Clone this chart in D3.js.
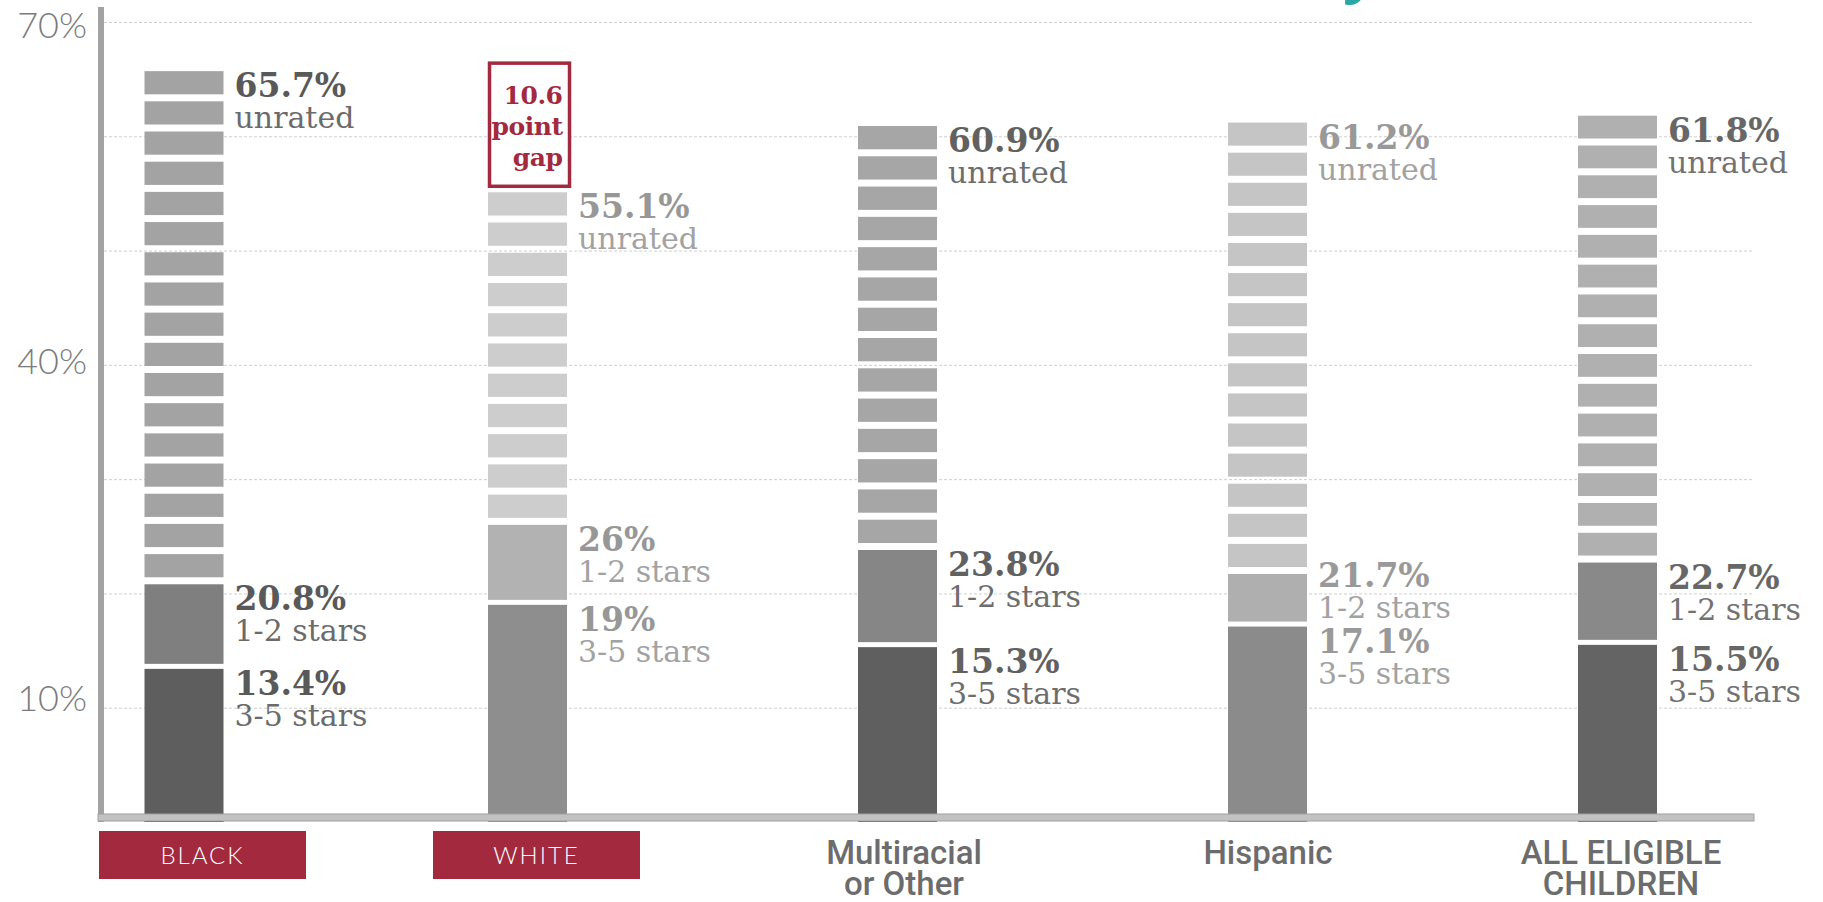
<!DOCTYPE html>
<html><head><meta charset="utf-8">
<script src="https://cdn.jsdelivr.net/npm/d3@7"></script>
<style>html,body{margin:0;padding:0;background:#fff;overflow:hidden}</style>
</head><body><svg id="chart" width="1823" height="902"></svg>
<script>
// ---- data ----
const categories = ["BLACK", "WHITE", "Multiracial or Other", "Hispanic", "ALL ELIGIBLE CHILDREN"];
const categoryLines = [["BLACK"], ["WHITE"], ["Multiracial", "or Other"], ["Hispanic"], ["ALL ELIGIBLE", "CHILDREN"]];
const highlighted = ["BLACK", "WHITE"];
const stars35 = [13.4, 19, 15.3, 17.1, 15.5];
const stars12 = [20.8, 26, 23.8, 21.7, 22.7];
const unrated = [65.7, 55.1, 60.9, 61.2, 61.8];
const seriesNames = ["3-5 stars", "1-2 stars", "unrated"];
const gridValues = [10, 20, 30, 40, 50, 60, 70];
const tickValues = [10, 40, 70];
const gapPair = ["BLACK", "WHITE"];
const gapLabel = ["10.6", "point", "gap"];

// ---- styles ----
const shade = {
  "BLACK": {s35: "#5e5e5e", s12: "#7f7f7f", un: "#a3a3a3", text: "#595959", sub: "#6b6b6b"},
  "WHITE": {s35: "#8e8e8e", s12: "#b2b2b2", un: "#cdcdcd", text: "#979797", sub: "#a2a2a2"},
  "Multiracial or Other": {s35: "#5f5f5f", s12: "#868686", un: "#a6a6a6", text: "#616161", sub: "#6d6d6d"},
  "Hispanic": {s35: "#8b8b8b", s12: "#afafaf", un: "#c5c5c5", text: "#999999", sub: "#a2a2a2"},
  "ALL ELIGIBLE CHILDREN": {s35: "#646464", s12: "#898989", un: "#b0b0b0", text: "#676767", sub: "#727272"}
};
const crimson = "#a3293f";
const serif = "'DejaVu Serif', serif";

const svg = d3.select("#chart");
const y = d3.scaleLinear().domain([0, 70]).range([822, 22]);
const x = d3.scaleOrdinal().domain(categories).range([184, 527.5, 897.5, 1267.5, 1617.5]);
const xLabel = d3.scaleOrdinal().domain(categories).range([202.5, 536.5, 904, 1268, 1621]);
const barW = 79;
const axisLeftX = 101, axisRightX = 1754;

// title fragment (cut off at the top)
svg.append("text").attr("x", 1343).attr("y", -10)
  .attr("font-family", "'Open Sans', sans-serif").attr("font-weight", 700)
  .attr("font-size", 62).attr("fill", "#2aa6a6").text("y");

// gridlines
svg.append("g").selectAll("line").data(gridValues).join("line")
  .attr("x1", axisLeftX + 3).attr("x2", axisRightX)
  .attr("y1", d => y(d) + 0.5).attr("y2", d => y(d) + 0.5)
  .attr("stroke", "#cfcfcf").attr("stroke-width", 1).attr("stroke-dasharray", "3,2");

// y axis labels
const yAxis = svg.append("g").attr("transform", `translate(${axisLeftX},0)`)
  .call(d3.axisLeft(y).tickValues(tickValues).tickFormat(d => d + "%").tickSize(0).tickPadding(14));
yAxis.select(".domain").remove();
yAxis.selectAll("text").attr("font-family", "Lato, sans-serif").attr("font-weight", 300)
  .attr("font-size", 36).attr("fill", "#7b7b7b")
  .attr("dy", d => (3 + (d - 10) * 0.2) + "px");

// bars
const rows = categories.map((c, i) => ({c, i, s35: stars35[i], s12: stars12[i], un: unrated[i]}));
const bars = svg.append("g");
rows.forEach(r => {
  const x0 = x(r.c) - barW / 2;
  const col = shade[r.c];
  bars.append("rect").attr("x", x0).attr("width", barW)
    .attr("y", y(r.s35)).attr("height", y(0) - y(r.s35)).attr("fill", col.s35);
  bars.append("rect").attr("x", x0).attr("width", barW)
    .attr("y", y(r.s12)).attr("height", (y(r.s35) - 5) - y(r.s12)).attr("fill", col.s12);
  const top = y(r.un), bot = y(r.s12);
  const n = Math.max(1, Math.round((bot - top) / 30));
  const pitch = (bot - top) / n;
  bars.selectAll(null).data(d3.range(n)).join("rect")
    .attr("x", x0).attr("width", barW)
    .attr("y", k => top + k * pitch).attr("height", pitch - 7)
    .attr("fill", col.un);
});

// value labels (lower labels pushed apart when bars are close)
const labelG = svg.append("g");
rows.forEach(r => {
  const col = shade[r.c];
  const lx = x(r.c) + barW / 2 + 11;
  const b35 = y(r.s35) + 26;
  const b12 = Math.min(y(r.s12) + 26, b35 - 66);
  const bun = y(r.un) + 26;
  [[r.s35, seriesNames[0], b35], [r.s12, seriesNames[1], b12], [r.un, seriesNames[2], bun]].forEach(([v, name, base]) => {
    labelG.append("text").attr("x", lx).attr("y", base)
      .attr("font-family", serif).attr("font-weight", 700).attr("font-size", 33)
      .attr("fill", col.text).text(v + "%");
    labelG.append("text").attr("x", lx).attr("y", base + 31)
      .attr("font-family", serif).attr("font-size", 30)
      .attr("fill", col.sub).text(name);
  });
});

// gap box
const gapHi = unrated[categories.indexOf(gapPair[0])];
const gapLo = unrated[categories.indexOf(gapPair[1])];
const gx0 = x(gapPair[1]) - barW / 2 + 1.5;
const gTop = y(gapHi) - 8, gBot = y(gapLo) - 6;
svg.append("rect").attr("x", gx0).attr("y", gTop).attr("width", barW + 1).attr("height", gBot - gTop)
  .attr("fill", "#fff").attr("stroke", crimson).attr("stroke-width", 3.5);
svg.append("g").selectAll("text").data(gapLabel).join("text")
  .attr("x", gx0 + barW - 6).attr("y", (d, k) => gTop + 41 + k * 31)
  .attr("text-anchor", "end").attr("font-family", serif).attr("font-weight", 700)
  .attr("font-size", 25).attr("letter-spacing", -0.5).attr("fill", crimson).text(d => d);

// axes lines
svg.append("rect").attr("x", axisLeftX - 3).attr("y", 7).attr("width", 6).attr("height", 815)
  .attr("fill", "#a2a2a2");
svg.append("rect").attr("x", axisLeftX - 3).attr("y", 814).attr("width", axisRightX - axisLeftX + 3).attr("height", 7)
  .attr("fill", "#c2c2c2").attr("stroke", "#a0a0a0").attr("stroke-width", 1);

// category labels
const catG = svg.append("g");
rows.forEach(r => {
  const cx = xLabel(r.c);
  if (highlighted.includes(r.c)) {
    catG.append("rect").attr("x", cx - 103.5).attr("y", 831).attr("width", 207).attr("height", 48)
      .attr("fill", crimson);
    catG.append("text").attr("x", cx).attr("y", 864).attr("text-anchor", "middle")
      .attr("font-family", "Lato, sans-serif").attr("font-weight", 300).attr("font-size", 24)
      .attr("letter-spacing", 2).attr("fill", "#fff").text(categoryLines[r.i][0]);
  } else {
    catG.append("text").attr("x", cx).attr("y", 864).attr("text-anchor", "middle")
      .attr("font-family", "Roboto, sans-serif").attr("font-weight", 500).attr("font-size", 33)
      .attr("fill", "#6c6c6c")
      .selectAll("tspan").data(categoryLines[r.i]).join("tspan")
      .attr("x", cx).attr("dy", (d, k) => k === 0 ? 0 : 31).text(d => d);
  }
});
</script>
</body></html>
